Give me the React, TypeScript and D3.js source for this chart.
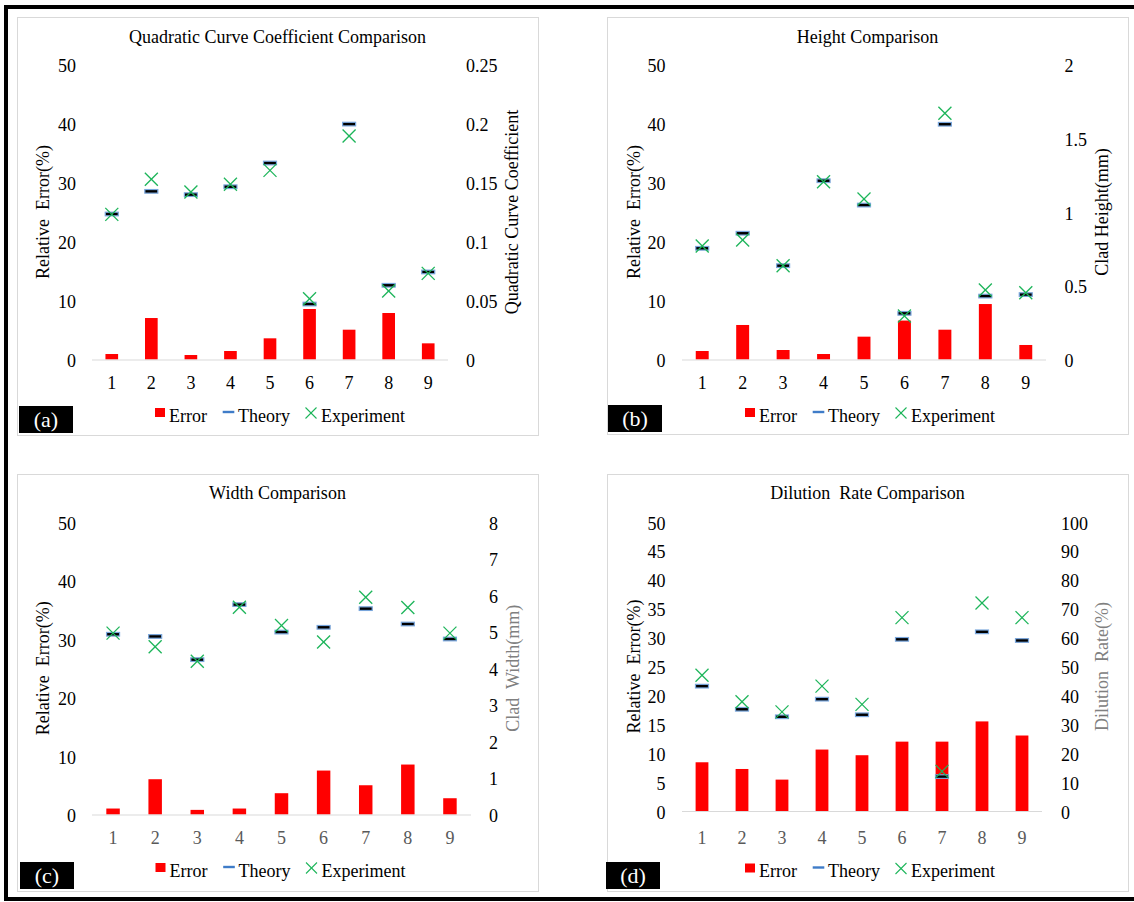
import React from 'react';
import * as d3 from 'd3';

const categories = ['1', '2', '3', '4', '5', '6', '7', '8', '9'];

// (a) Quadratic curve coefficient
const errorA = [0.93, 7.03, 0.76, 1.44, 3.59, 8.56, 5.05, 7.88, 2.74];
const theoryA = [0.1233, 0.1425, 0.1397, 0.1464, 0.1665, 0.047, 0.1995, 0.0629, 0.0742];
const experimentA = [0.123, 0.1527, 0.142, 0.1485, 0.1603, 0.0515, 0.1894, 0.058, 0.073];

// (b) Height
const errorB = [1.44, 5.85, 1.61, 0.93, 3.87, 6.6, 5.05, 9.4, 2.46];
const theoryB = [0.754, 0.856, 0.636, 1.212, 1.047, 0.313, 1.595, 0.43, 0.44];
const experimentB = [0.77, 0.81, 0.636, 1.205, 1.088, 0.295, 1.669, 0.471, 0.453];

// (c) Width
const errorC = [1.02, 6.03, 0.79, 1.02, 3.64, 7.51, 5.0, 8.54, 2.78];
const theoryC = [4.93, 4.87, 4.235, 5.74, 4.99, 5.12, 5.63, 5.21, 4.8];
const experimentC = [4.96, 4.59, 4.19, 5.67, 5.17, 4.72, 5.94, 5.66, 4.96];

// (d) Dilution rate
const errorD = [8.43, 7.27, 5.43, 10.63, 9.65, 12.0, 12.0, 15.5, 13.06];
const theoryD = [43.2, 35.2, 32.6, 38.7, 33.3, 59.4, 11.9, 62.0, 59.0];
const experimentD = [47.0, 37.8, 34.3, 43.2, 36.9, 66.9, 13.7, 72.0, 66.9];

const leftTicks10 = [0, 10, 20, 30, 40, 50];
const leftTicks5 = [0, 5, 10, 15, 20, 25, 30, 35, 40, 45, 50];
const rightTicksA = [0, 0.05, 0.1, 0.15, 0.2, 0.25];
const rightTicksB = [0, 0.5, 1, 1.5, 2];
const rightTicksC = [0, 1, 2, 3, 4, 5, 6, 7, 8];
const rightTicksD = [0, 10, 20, 30, 40, 50, 60, 70, 80, 90, 100];

const FONT = '"Liberation Serif", "Times New Roman", serif';
const RED = '#FF0000';
const GREEN = '#1DB55A';
const BLUE = '#3F7CC8';
const DASH_EDGE = '#79A6DC';
const GRAY = '#D9D9D9';

type Panel = {
  title: string;
  leftTitle: string;
  rightTitle: string;
  rightTitleColor: string;
  xLabelColor: string;
  tag: string;
  error: number[];
  theory: number[];
  experiment: number[];
  leftTicks: number[];
  rightTicks: number[];
  box: [number, number, number, number];
  plotX: [number, number];
  y0: number;
  yTop: number;
  leftLabelX: number;
  rightLabelX: number;
  leftTitleX: number;
  rightTitleX: number;
  titleY: number;
  xLabelY: number;
  legendY: number;
  legendX: number;
  tagBox: [number, number, number, number];
};

const panels: Panel[] = [
  {
    title: 'Quadratic Curve Coefficient Comparison',
    leftTitle: 'Relative  Error(%)',
    rightTitle: 'Quadratic Curve Coefficient',
    rightTitleColor: '#000',
    xLabelColor: '#000',
    tag: '(a)',
    error: errorA, theory: theoryA, experiment: experimentA,
    leftTicks: leftTicks10, rightTicks: rightTicksA,
    box: [17, 17, 538, 435], plotX: [92, 448], y0: 359.5, yTop: 64.5,
    leftLabelX: 76, rightLabelX: 466, leftTitleX: 43, rightTitleX: 512,
    titleY: 42.5, xLabelY: 389, legendY: 421.5, legendX: 155,
    tagBox: [19, 406, 73, 433],
  },
  {
    title: 'Height Comparison',
    leftTitle: 'Relative  Error(%)',
    rightTitle: 'Clad Height(mm)',
    rightTitleColor: '#000',
    xLabelColor: '#000',
    tag: '(b)',
    error: errorB, theory: theoryB, experiment: experimentB,
    leftTicks: leftTicks10, rightTicks: rightTicksB,
    box: [607, 17, 1128, 434], plotX: [682, 1046], y0: 359.5, yTop: 64.5,
    leftLabelX: 665.5, rightLabelX: 1064.5, leftTitleX: 634, rightTitleX: 1102,
    titleY: 42.5, xLabelY: 389, legendY: 421.5, legendX: 745,
    tagBox: [608, 405, 662, 432],
  },
  {
    title: 'Width Comparison',
    leftTitle: 'Relative  Error(%)',
    rightTitle: 'Clad  Width(mm)',
    rightTitleColor: '#808080',
    xLabelColor: '#595959',
    tag: '(c)',
    error: errorC, theory: theoryC, experiment: experimentC,
    leftTicks: leftTicks10, rightTicks: rightTicksC,
    box: [17, 474, 538, 891], plotX: [92, 471], y0: 814.5, yTop: 522,
    leftLabelX: 76, rightLabelX: 489, leftTitleX: 43, rightTitleX: 513,
    titleY: 498.5, xLabelY: 844, legendY: 876.5, legendX: 155.5,
    tagBox: [20, 862, 74, 889],
  },
  {
    title: 'Dilution  Rate Comparison',
    leftTitle: 'Relative  Error(%)',
    rightTitle: 'Dilution  Rate(%)',
    rightTitleColor: '#808080',
    xLabelColor: '#595959',
    tag: '(d)',
    error: errorD, theory: theoryD, experiment: experimentD,
    leftTicks: leftTicks5, rightTicks: rightTicksD,
    box: [607, 474, 1128, 891], plotX: [682, 1042], y0: 811, yTop: 522,
    leftLabelX: 665.5, rightLabelX: 1061, leftTitleX: 634, rightTitleX: 1102,
    titleY: 498.5, xLabelY: 844, legendY: 877, legendX: 745,
    tagBox: [606, 862, 660, 889],
  },
];

function Cross({ cx, cy, s, w = 1.3 }: { cx: number; cy: number; s: number; w?: number }) {
  const h = s / 2;
  return (
    <g stroke={GREEN} strokeWidth={w} fill="none">
      <line x1={cx - h} y1={cy - h} x2={cx + h} y2={cy + h} />
      <line x1={cx - h} y1={cy + h} x2={cx + h} y2={cy - h} />
    </g>
  );
}

function PanelChart({ p }: { p: Panel }) {
  const x = d3.scaleBand<string>().domain(categories).range(p.plotX).paddingInner(0).paddingOuter(0);
  const yL = d3.scaleLinear().domain([0, 50]).range([p.y0, p.yTop]);
  const rMax = p.rightTicks[p.rightTicks.length - 1];
  const yR = d3.scaleLinear().domain([0, rMax]).range([p.y0, p.yTop]);
  const bw = x.bandwidth() * 0.32;
  const cxOf = (c: string) => (x(c) as number) + x.bandwidth() / 2;
  const midY = (p.y0 + p.yTop) / 2;
  const [bx0, by0, bx1, by1] = p.box;
  const lx = p.legendX;
  const ly = p.legendY;
  const [tx0, ty0, tx1, ty1] = p.tagBox;
  return (
    <g fontFamily={FONT}>
      <rect x={bx0 + 0.5} y={by0 + 0.5} width={bx1 - bx0} height={by1 - by0} fill="#fff" stroke={GRAY} strokeWidth={1} />
      <text x={(bx0 + bx1) / 2} y={p.titleY} textAnchor="middle" fontSize={18} fill="#000" style={{ whiteSpace: 'pre' }}>
        {p.title}
      </text>
      {p.leftTicks.map((t) => (
        <text key={'l' + t} x={p.leftLabelX} y={yL(t)} dy="0.42em" textAnchor="end" fontSize={18} fill="#000">
          {String(t)}
        </text>
      ))}
      {p.rightTicks.map((t) => (
        <text key={'r' + t} x={p.rightLabelX} y={yR(t)} dy="0.42em" textAnchor="start" fontSize={18} fill="#000">
          {String(t)}
        </text>
      ))}
      <text
        transform={`translate(${p.leftTitleX},${midY}) rotate(-90)`}
        textAnchor="middle" dominantBaseline="central" fontSize={18} fill="#000" style={{ whiteSpace: 'pre' }}
      >
        {p.leftTitle}
      </text>
      <text
        transform={`translate(${p.rightTitleX},${midY}) rotate(-90)`}
        textAnchor="middle" dominantBaseline="central" fontSize={18} fill={p.rightTitleColor} style={{ whiteSpace: 'pre' }}
      >
        {p.rightTitle}
      </text>
      {categories.map((c, i) => (
        <rect key={'b' + c} x={cxOf(c) - bw / 2} y={yL(p.error[i])} width={bw} height={p.y0 - yL(p.error[i])} fill={RED} />
      ))}
      <line x1={p.plotX[0]} x2={p.plotX[1]} y1={p.y0 + 0.5} y2={p.y0 + 0.5} stroke={GRAY} strokeWidth={1.2} />
      {categories.map((c) => (
        <text key={'x' + c} x={cxOf(c)} y={p.xLabelY} textAnchor="middle" fontSize={18} fill={p.xLabelColor}>
          {c}
        </text>
      ))}
      {categories.map((c, i) => (
        <rect key={'t' + c} x={cxOf(c) - 6.5} y={yR(p.theory[i]) - 1.8} width={13} height={3.6} fill="#000" stroke={DASH_EDGE} strokeWidth={1.2} />
      ))}
      {categories.map((c, i) => (
        <Cross key={'e' + c} cx={cxOf(c)} cy={yR(p.experiment[i])} s={13} />
      ))}
      {/* legend */}
      <rect x={lx} y={ly - 13.5} width={10} height={9} fill={RED} />
      <text x={lx + 14} y={ly} fontSize={18} fill="#000">Error</text>
      <rect x={lx + 67.7} y={ly - 10.7} width={11.6} height={2.4} fill={BLUE} />
      <text x={lx + 83} y={ly} fontSize={18} fill="#000">Theory</text>
      <Cross cx={lx + 156} cy={ly - 8.5} s={11} w={1.1} />
      <text x={lx + 166} y={ly} fontSize={18} fill="#000">Experiment</text>
      {/* tag */}
      <rect x={tx0} y={ty0} width={tx1 - tx0} height={ty1 - ty0} fill="#000" />
      <text x={(tx0 + tx1) / 2} y={(ty0 + ty1) / 2} dy="0.36em" textAnchor="middle" fontSize={22} fill="#fff">
        {p.tag}
      </text>
    </g>
  );
}

export default function App() {
  return (
    <svg
      width={1134}
      height={902}
      viewBox="0 0 1134 902"
      style={{ position: 'absolute', left: 0, top: 0, background: '#fff' }}
    >
      <rect x={0} y={0} width={1134} height={902} fill="#fff" />
      {panels.map((p) => (
        <PanelChart key={p.tag} p={p} />
      ))}
      <line x1={4} x2={1134} y1={7} y2={7} stroke="#000" strokeWidth={4} />
      <line x1={6} x2={6} y1={5} y2={901} stroke="#000" strokeWidth={4} />
      <line x1={4} x2={1134} y1={899} y2={899} stroke="#000" strokeWidth={4} />
    </svg>
  );
}
